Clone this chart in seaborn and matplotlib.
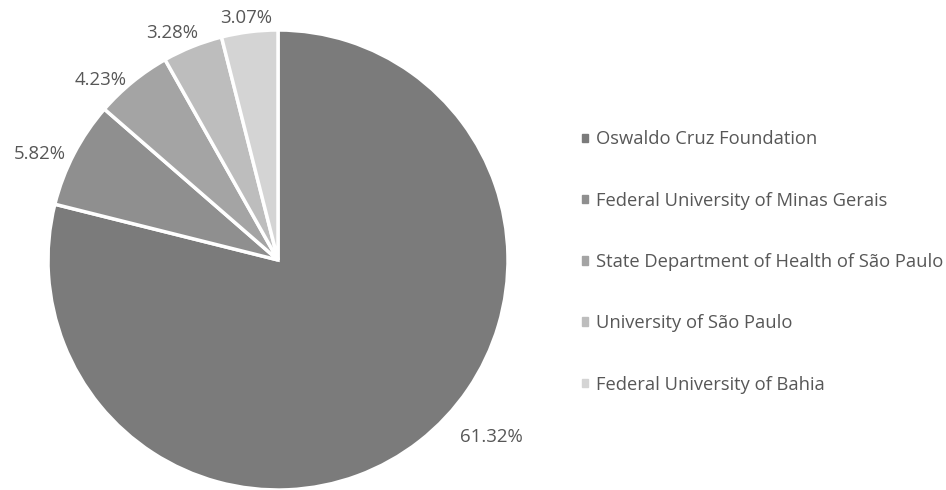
import numpy as np
import matplotlib
matplotlib.use('Agg')
import matplotlib.pyplot as plt
import matplotlib.patches as mpatches
import seaborn as sns

# data
institutions = ['Oswaldo Cruz Foundation', 'Federal University of Minas Gerais',
                'State Department of Health of São Paulo', 'University of São Paulo',
                'Federal University of Bahia']
shares = [61.32, 5.82, 4.23, 3.28, 3.07]
colors = ['#7b7b7b', '#8f8f8f', '#a4a4a4', '#bdbdbd', '#d4d4d4']

# label placement tweaks (angle shift in degrees, radial distance)
label_shift = [12.4, 3.5, 5.3, 3.2, 0.4]
label_dist = [1.207, 1.135, 1.10, 1.09, 1.063]

sns.set_theme(style='white')
plt.rcParams['font.family'] = ['Open Sans', 'DejaVu Sans']
text_color = '#575757'

fig = plt.figure(figsize=(9.46, 4.9), dpi=100)
ax = fig.add_axes([48 / 946, 0, 460 / 946, 460 / 490])

wedges, _ = ax.pie(shares, colors=colors, startangle=90, counterclock=False,
                   radius=1, wedgeprops=dict(edgecolor='white', linewidth=2.5))
ax.set_xlim(-1, 1)
ax.set_ylim(-1, 1)
ax.set_aspect('equal')
ax.axis('off')

# percent labels outside the slices
for w, v, sh, d in zip(wedges, shares, label_shift, label_dist):
    ang = np.deg2rad((w.theta1 + w.theta2) / 2 + sh)
    ax.text(d * np.cos(ang), d * np.sin(ang), f'{v:.2f}%', ha='center', va='center',
            fontsize=13.4, color=text_color, clip_on=False)

handles = [mpatches.Patch(color=c) for c in colors]
leg = fig.legend(handles, institutions, loc='center left',
                 bbox_to_anchor=(573 / 946, 1 - 262 / 490), frameon=False,
                 fontsize=13.2, handlelength=0.33, handleheight=0.33,
                 handletextpad=0.4, labelspacing=2.36, borderpad=0)
for t in leg.get_texts():
    t.set_color(text_color)

fig.savefig('out.png', dpi=100)
